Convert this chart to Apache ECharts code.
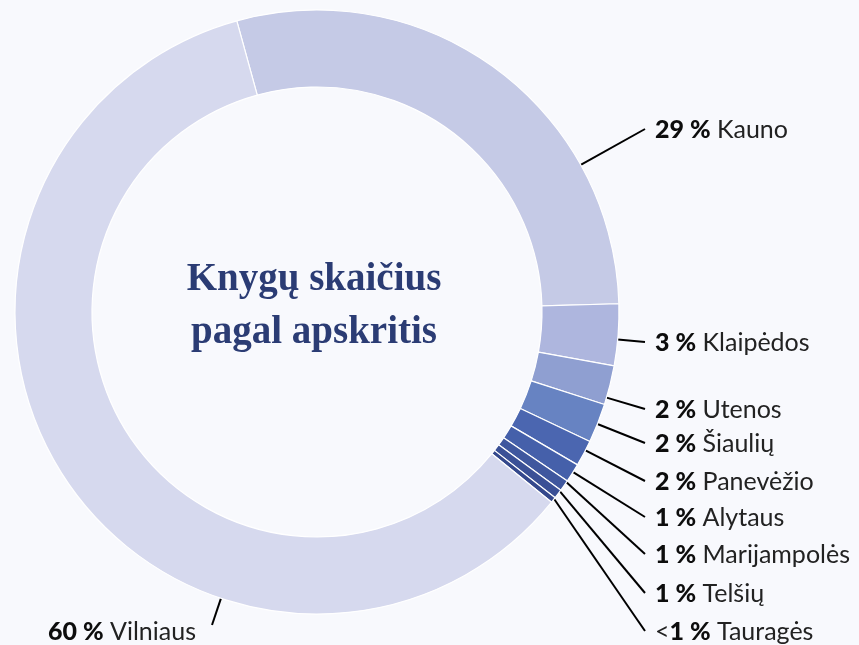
<!DOCTYPE html>
<html>
<head>
<meta charset="utf-8">
<script src="https://cdn.jsdelivr.net/npm/echarts@6/dist/echarts.min.js"></script>
<style>
  html, body { margin: 0; padding: 0; background: #f8f9fd; }
  #chart { width: 859px; height: 645px; }
</style>
</head>
<body>
<div id="chart"></div>
<script>
// duomenys
const regions = ['Kauno', 'Klaipėdos', 'Utenos', 'Šiaulių', 'Panevėžio', 'Alytaus', 'Marijampolės', 'Telšių', 'Tauragės', 'Vilniaus']
const shares = [28.9, 3.3, 2.1, 2.1, 1.4, 1.0, 0.6, 0.5, 0.3, 60.0]
const shareLabels = ['29 %', '3 %', '2 %', '2 %', '2 %', '1 %', '1 %', '1 %', '1 %', '60 %']
const labelPrefix = ['', '', '', '', '', '', '', '', '<', '']
const colors = ['#c5cae6', '#aeb6de', '#8f9fd1', '#6783c2', '#4b66b0', '#4560aa', '#3f579e', '#3a5096', '#34488c', '#d6d9ee']

// išdėstymas
const cx = 317
const cy = 312
const rIn = 225
const rOut = 302
const startAngle = 105.4
const labelX = [655, 655, 655, 655, 655, 655, 655, 655, 655, 196]
const labelY = [130, 343, 410, 444, 482, 518, 555, 594, 632, 632]

const total = shares.reduce((a, b) => a + b, 0)
const sliceStart = []
const sliceEnd = []
let acc = 0
shares.forEach(v => {
  sliceStart.push(startAngle - 360 * acc / total)
  acc += v
  sliceEnd.push(startAngle - 360 * acc / total)
})

const chart = echarts.init(document.getElementById('chart'))

const option = {
  backgroundColor: '#f8f9fd',
  animation: false,
  graphic: [{
    type: 'text',
    x: cx - 3,
    y: cy - 6,
    style: {
      text: 'Knygų skaičius\npagal apskritis',
      fill: '#2b3c74',
      font: 'bold 39px "Liberation Serif", serif',
      lineHeight: 53,
      align: 'center',
      verticalAlign: 'middle'
    }
  }],
  series: [{
    type: 'pie',
    center: [cx, cy],
    radius: [rIn, rOut],
    startAngle: startAngle,
    clockwise: true,
    avoidLabelOverlap: false,
    itemStyle: { borderColor: '#ffffff', borderWidth: 1.2 },
    emphasis: { disabled: true },
    label: {
      show: true,
      color: '#111',
      fontFamily: 'Lato',
      fontSize: 25,
      formatter: (p) => {
        const i = p.dataIndex
        const pre = labelPrefix[i] ? '{n|' + labelPrefix[i] + '}' : ''
        return pre + '{b|' + shareLabels[i] + '} {n|' + regions[i] + '}'
      },
      rich: {
        b: { fontFamily: 'Lato', fontWeight: 900, fontSize: 25, color: '#0d0d0d' },
        n: { fontFamily: 'Lato', fontSize: 25, color: '#222' }
      }
    },
    labelLine: {
      show: true,
      length: 10,
      length2: 0,
      lineStyle: { color: '#000', width: 2 }
    },
    labelLayout: (params) => {
      const i = params.dataIndex
      const left = labelX[i] < cx
      const ex = left ? labelX[i] + 16 : labelX[i] - 10
      const ey = left ? labelY[i] - 7 : labelY[i] - 1
      // linija prasideda arčiausiai etiketės esančiame sektoriaus krašto taške
      let a = Math.atan2(-(ey - cy), ex - cx) * 180 / Math.PI
      const hi = sliceStart[i]
      const lo = sliceEnd[i]
      while (a > hi) a -= 360
      while (a < lo) a += 360
      const pad = Math.min(0.3, (hi - lo) / 2)
      a = Math.max(lo + pad, Math.min(hi - pad, a))
      const rad = a * Math.PI / 180
      const sx = cx + rOut * Math.cos(rad)
      const sy = cy - rOut * Math.sin(rad)
      return {
        x: labelX[i],
        y: labelY[i],
        align: left ? 'right' : 'left',
        verticalAlign: 'middle',
        labelLinePoints: [[sx, sy], [ex, ey], [ex, ey]]
      }
    },
    data: regions.map((name, i) => ({
      name: name,
      value: shares[i],
      itemStyle: { color: colors[i] }
    }))
  }]
}

chart.setOption(option)
</script>
</body>
</html>
